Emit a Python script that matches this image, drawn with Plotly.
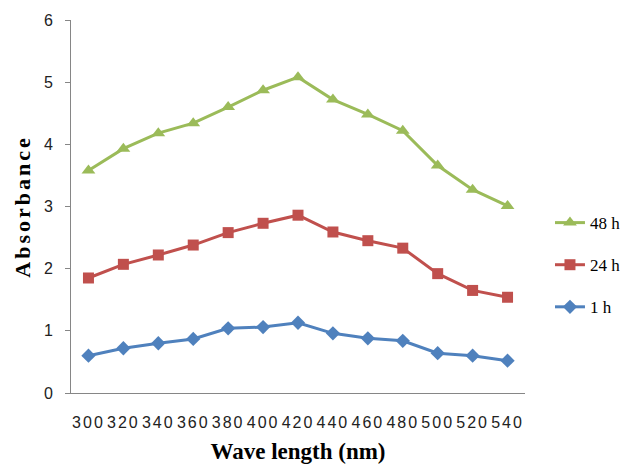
import plotly.graph_objects as go

wavelengths = ["300", "320", "340", "360", "380", "400", "420", "440", "460", "480", "500", "520", "540"]
h1 = [0.60, 0.72, 0.80, 0.87, 1.04, 1.06, 1.13, 0.96, 0.88, 0.84, 0.64, 0.60, 0.52]
h24 = [1.85, 2.07, 2.22, 2.38, 2.58, 2.73, 2.86, 2.59, 2.45, 2.33, 1.92, 1.65, 1.54]
h48 = [3.58, 3.93, 4.18, 4.34, 4.60, 4.87, 5.08, 4.72, 4.48, 4.22, 3.66, 3.27, 3.01]
y_ticks = [0, 1, 2, 3, 4, 5, 6]

fig = go.Figure()
series = [
    ("48 h", h48, "#9BBB59", "triangle-up", 12),
    ("24 h", h24, "#C0504D", "square", 11),
    ("1 h", h1, "#4F81BD", "diamond", 11),
]
for i, (name, vals, color, sym, size) in enumerate(series):
    fig.add_trace(go.Scatter(
        x=wavelengths, y=vals, name=name, mode="lines+markers",
        line=dict(color=color, width=3),
        marker=dict(symbol=sym, size=size, color=color),
        legendgroup=f"g{i}",
    ))

tick_text = [f'<span style="letter-spacing:2px">{w}</span>' for w in wavelengths]

fig.update_layout(
    width=630, height=467,
    margin=dict(l=63, r=113, t=12, b=82),
    paper_bgcolor="white", plot_bgcolor="white",
    showlegend=True,
    legend=dict(
        x=1.055, y=0.343, xanchor="left", yanchor="middle",
        traceorder="grouped", tracegroupgap=17,
        font=dict(family="Liberation Serif", size=17, color="#000000"),
        bgcolor="rgba(0,0,0,0)",
    ),
    xaxis=dict(
        type="category", showgrid=False, showline=True, linecolor="#868686", linewidth=1,
        ticks="", ticklabelstandoff=15, automargin=False,
        tickvals=wavelengths, ticktext=tick_text,
        tickfont=dict(family="Liberation Sans", size=16, color="#222222"),
        title=dict(text='<b>Wave length (nm)</b>', standoff=12,
                   font=dict(family="Liberation Serif", size=23, color="#000000")),
        range=[-0.5, 12.5],
    ),
    yaxis=dict(
        range=[0, 6], tickvals=y_ticks, showgrid=False, showline=True, linecolor="#868686",
        linewidth=1, ticks="outside", ticklen=5, tickcolor="#868686", zeroline=False,
        ticklabelstandoff=9, automargin=False,
        tickfont=dict(family="Liberation Sans", size=16, color="#222222"),
        title=dict(text='<b><span style="letter-spacing:3px">Absorbance</span></b>', standoff=7,
                   font=dict(family="Liberation Serif", size=22, color="#000000")),
    ),
)

fig.write_html("out.html")
